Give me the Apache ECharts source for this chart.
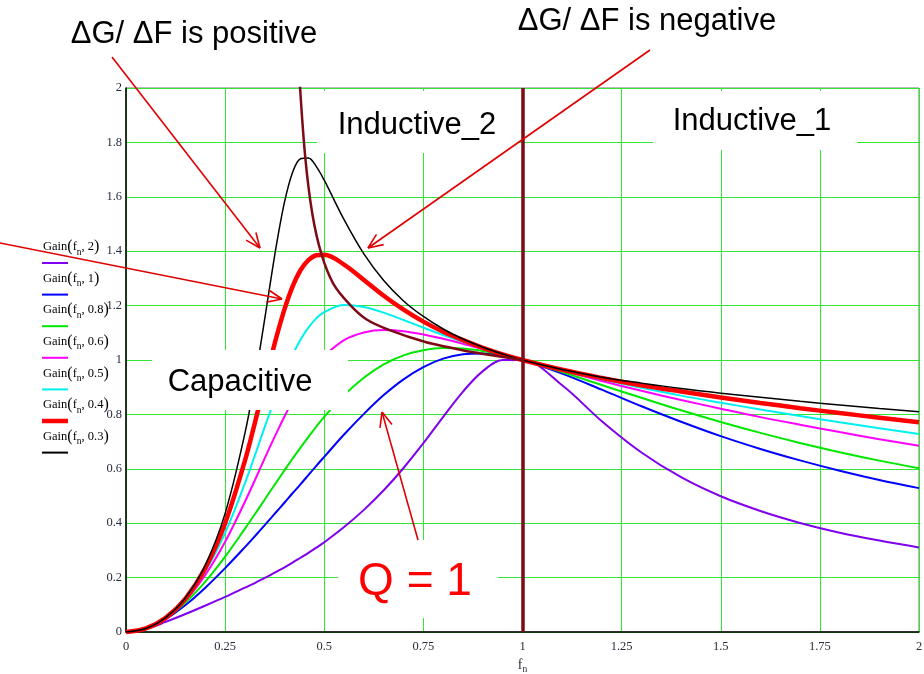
<!DOCTYPE html>
<html><head><meta charset="utf-8">
<script src="https://cdn.jsdelivr.net/npm/echarts@6/dist/echarts.min.js"></script>
<style>html,body{margin:0;padding:0;background:#fff;overflow:hidden}#c{width:924px;height:674px}</style>
</head><body><div id="c"></div>
<script>
// normalized frequency samples
const fn = [0,0.05,0.1,0.15,0.2,0.25,0.3,0.325,0.35,0.365,0.38,0.4,0.42,0.44,0.46,0.48,0.5,0.55,0.6,0.65,0.7,0.75,0.8,0.85,0.9,0.95,1,1.1,1.2,1.3,1.4,1.5,1.6,1.7,1.8,1.9,2];
// gain curves, one per Q
const gainQ2   = [0,0.011,0.037,0.066,0.097,0.129,0.163,0.180,0.199,0.210,0.222,0.238,0.255,0.273,0.291,0.310,0.330,0.386,0.449,0.521,0.603,0.694,0.791,0.884,0.959,1.000,1,0.907,0.775,0.660,0.569,0.499,0.445,0.401,0.365,0.336,0.311];
const gainQ1   = [0,0.012,0.047,0.099,0.163,0.235,0.312,0.352,0.393,0.418,0.443,0.476,0.510,0.543,0.577,0.611,0.644,0.726,0.802,0.871,0.929,0.974,1.005,1.021,1.024,1.017,1,0.950,0.891,0.830,0.773,0.720,0.673,0.631,0.593,0.559,0.529];
const gainQ08  = [0,0.012,0.049,0.108,0.185,0.277,0.380,0.433,0.487,0.520,0.552,0.595,0.637,0.678,0.717,0.755,0.791,0.871,0.935,0.984,1.017,1.036,1.044,1.042,1.033,1.019,1,0.956,0.908,0.861,0.815,0.772,0.732,0.695,0.661,0.630,0.602];
const gainQ06  = [0,0.013,0.051,0.116,0.210,0.332,0.479,0.558,0.639,0.687,0.733,0.793,0.849,0.899,0.944,0.983,1.015,1.073,1.101,1.110,1.106,1.094,1.078,1.060,1.040,1.020,1,0.961,0.923,0.887,0.853,0.821,0.790,0.762,0.735,0.709,0.685];
const gainQ05  = [0,0.013,0.051,0.120,0.223,0.365,0.547,0.649,0.754,0.816,0.877,0.951,1.018,1.074,1.119,1.153,1.176,1.202,1.195,1.174,1.147,1.119,1.092,1.067,1.043,1.021,1,0.962,0.929,0.898,0.869,0.843,0.818,0.794,0.771,0.749,0.728];
const gainQ04  = [0,0.013,0.052,0.123,0.235,0.400,0.630,0.769,0.916,1.004,1.088,1.188,1.270,1.330,1.367,1.385,1.387,1.351,1.294,1.236,1.185,1.141,1.104,1.073,1.045,1.021,1,0.964,0.934,0.907,0.884,0.862,0.842,0.823,0.805,0.788,0.771];
const gainQ03  = [0,0.013,0.053,0.126,0.246,0.436,0.731,0.927,1.152,1.293,1.428,1.582,1.689,1.740,1.743,1.711,1.661,1.516,1.390,1.292,1.217,1.160,1.114,1.077,1.047,1.022,1,0.965,0.937,0.915,0.895,0.878,0.863,0.848,0.835,0.822,0.810];
const qLabels  = ['2','1','0.8','0.6','0.5','0.4','0.3'];
// peak locus (capacitive / inductive boundary)
const locusFn   = [0.437,0.452,0.47,0.493,0.523,0.565,0.608,0.665,0.755,0.82,0.86,0.89,0.955,1];
const locusGain = [2.05,1.747,1.537,1.389,1.28,1.203,1.148,1.11,1.066,1.045,1.032,1.025,1.01,1];
const xTicks = [0,0.25,0.5,0.75,1,1.25,1.5,1.75,2];
const yTicks = [0,0.2,0.4,0.6,0.8,1,1.2,1.4,1.6,1.8,2];

const curves = [gainQ2,gainQ1,gainQ08,gainQ06,gainQ05,gainQ04,gainQ03];
const colors = ['#8000f0','#0000ff','#00e800','#ff00ff','#00f0f0','#ff0000','#000000'];
const widths = [2,2,2,2,2,4.5,1.5];

const chart = echarts.init(document.getElementById('c'));
const serif = '"Liberation Serif","Times New Roman",serif';
const sans = '"Liberation Sans",Arial,sans-serif';
const gridGreen = '#33e633';

const series = curves.map((c,i)=>({
  type:'line', name:'Gain(fn,'+qLabels[i]+')', data: fn.map((x,j)=>[x,c[j]]),
  showSymbol:false, symbol:'none', smooth:0.35, z:2+i*0.1,
  lineStyle:{color:colors[i], width:widths[i]}, silent:true
}));
series.push({
  type:'line', name:'locus', data: locusFn.map((x,j)=>[x,locusGain[j]]),
  showSymbol:false, symbol:'none', smooth:0.35, z:3,
  lineStyle:{color:'#7d0a14', width:2.5}, silent:true,
  markLine:{symbol:['none','none'], silent:true, label:{show:false},
    lineStyle:{color:'#7d0a14', width:3.5, type:'solid'}, data:[{xAxis:1}]}
});

function arrow(x1,y1,x2,y2){
  const a=Math.atan2(y2-y1,x2-x1), L=16, s=0.4;
  const st={stroke:'#e00000', lineWidth:1.6};
  return [
    {type:'line', z:70, shape:{x1,y1,x2,y2}, style:st},
    {type:'line', z:70, shape:{x1:x2,y1:y2,x2:x2-L*Math.cos(a-s),y2:y2-L*Math.sin(a-s)}, style:st},
    {type:'line', z:70, shape:{x1:x2,y1:y2,x2:x2-L*Math.cos(a+s),y2:y2-L*Math.sin(a+s)}, style:st}
  ];
}
function label(t,x,y,size,color){
  return {type:'text', z:60, x, y, style:{text:t, font:'normal '+size+'px '+sans, fill:color||'#000', align:'center', verticalAlign:'middle'}};
}
const richLeg = {
  a:{fontFamily:serif, fontSize:12.5, color:'#2b2b3b', lineHeight:20, verticalAlign:'middle'},
  p:{fontFamily:serif, fontSize:16, color:'#2b2b3b', lineHeight:20, verticalAlign:'middle'},
  s:{fontFamily:serif, fontSize:9.5, color:'#2b2b3b', lineHeight:9, verticalAlign:'bottom'}
};
const graphics = [];
// white label boxes
[[152,350,196,60],[317,91,201,62],[653,91,204,59],[338,540,160,78]].forEach(b=>{
  graphics.push({type:'rect', z:50, shape:{x:b[0],y:b[1],width:b[2],height:b[3]}, style:{fill:'#fff'}});
});
graphics.push(label('ΔG/ ΔF is positive',194,34,31));
graphics.push(label('ΔG/ ΔF is negative',647,21,31));
graphics.push(label('Inductive_2',417,125,31));
graphics.push(label('Inductive_1',752,121,31));
graphics.push(label('Capacitive',240,382,31));
graphics.push(label('Q = 1',415,582,46,'#ff0000'));
graphics.push(...arrow(112,57,260,248));
graphics.push(...arrow(650,50,368,248));
graphics.push(...arrow(0,243,282,299));
graphics.push(...arrow(418,540,382,412));
qLabels.forEach((q,i)=>{
  graphics.push({type:'text', z:60, x:43, y:247+31.6*i, style:{
    text:'{a|Gain}{p|(}{a|f}{s|n}{a|, '+q+'}{p|)}', rich:richLeg, align:'left', verticalAlign:'middle'}});
  graphics.push({type:'line', z:60, shape:{x1:42,y1:263+31.6*i,x2:68,y2:263+31.6*i},
    style:{stroke:colors[i], lineWidth:widths[i]===1.5?2:widths[i]}});
});

chart.setOption({
  animation:false,
  backgroundColor:'#fff',
  grid:{left:126,top:88,width:793,height:544,containLabel:false,outerBoundsMode:'none',
    show:true,borderColor:'#777',borderWidth:1,backgroundColor:'transparent'},
  xAxis:{type:'value',min:xTicks[0],max:xTicks[xTicks.length-1],interval:0.25,
    axisLine:{lineStyle:{color:'#000',width:1.5}}, axisTick:{show:false},
    axisLabel:{fontFamily:serif,fontSize:12.5,color:'#2b2b3b',margin:8},
    splitLine:{show:true,lineStyle:{color:gridGreen,width:1}},
    name:'{a|f}{s|n}', nameLocation:'middle', nameGap:22,
    nameTextStyle:{rich:{a:{fontFamily:serif,fontSize:14,color:'#2b2b3b',lineHeight:20,verticalAlign:'middle'},
      s:{fontFamily:serif,fontSize:9.5,color:'#2b2b3b',lineHeight:9,verticalAlign:'bottom'}}}},
  yAxis:{type:'value',min:yTicks[0],max:yTicks[yTicks.length-1],interval:0.2,
    axisLine:{show:true,lineStyle:{color:'#000',width:1.5}}, axisTick:{show:false},
    axisLabel:{fontFamily:serif,fontSize:12.5,color:'#2b2b3b',margin:4},
    splitLine:{show:true,lineStyle:{color:gridGreen,width:1}}},
  series,
  graphic:graphics
});
</script></body></html>
